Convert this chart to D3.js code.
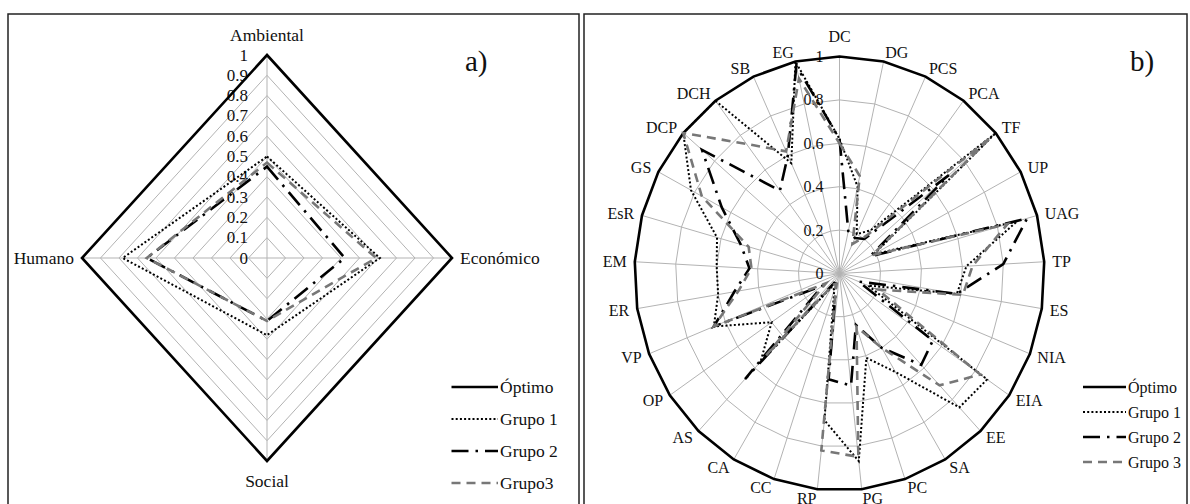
<!DOCTYPE html>
<html>
<head>
<meta charset="utf-8">
<script src="https://cdn.jsdelivr.net/npm/d3@7"></script>
<style>
  html, body { margin: 0; padding: 0; background: #fff; }
  svg, svg text { font-family: "Liberation Serif", "DejaVu Serif", "Times New Roman", serif; }
</style>
</head>
<body>
<svg id="chart" width="1190" height="504"></svg>
<script>
// ---- Panel a): sustainability dimensions ----
const axesA = ["Ambiental", "Económico", "Social", "Humano"];
const optimoA = [1, 1, 1, 1];
const grupo1A = [0.50, 0.61, 0.38, 0.78];
const grupo2A = [0.45, 0.42, 0.31, 0.65];
const grupo3A = [0.47, 0.59, 0.31, 0.65];
const ticksA = [0, 0.1, 0.2, 0.3, 0.4, 0.5, 0.6, 0.7, 0.8, 0.9, 1];
const tickLabelsA = ["0", "0.1", "0.2", "0.3", "0.4", "0.5", "0.6", "0.7", "0.8", "0.9", "1"];
const legendA = ["Óptimo", "Grupo 1", "Grupo 2", "Grupo3"];

// ---- Panel b): indicators ----
const axesB = ["DC", "DG", "PCS", "PCA", "TF", "UP", "UAG", "TP", "ES", "NIA", "EIA", "EE", "SA", "PC",
               "PG", "RP", "CC", "CA", "AS", "OP", "VP", "ER", "EM", "EsR", "GS", "DCP", "DCH", "SB", "EG"];
const optimoB = [1, 1, 1, 1, 1, 1, 1, 1, 1, 1, 1, 1, 1, 1, 1, 1, 1, 1, 1, 1, 1, 1, 1, 1, 1, 1, 1, 1, 1];
const grupo1B = [0.62, 0.41, 0.20, 0.25, 1.00, 0.19, 0.90, 0.62, 0.58, 0.15, 0.87, 0.85, 0.53, 0.41,
                 0.87, 0.68, 0.08, 0.07, 0.56, 0.40, 0.66, 0.60, 0.60, 0.62, 0.82, 1.00, 1.00, 0.56, 1.00];
const grupo2B = [0.62, 0.20, 0.18, 0.20, 0.70, 0.17, 0.95, 0.80, 0.58, 0.10, 0.55, 0.58, 0.40, 0.25,
                 0.52, 0.49, 0.05, 0.05, 0.67, 0.10, 0.66, 0.52, 0.44, 0.50, 0.65, 0.88, 0.48, 0.60, 0.98];
const grupo3B = [0.60, 0.46, 0.15, 0.22, 0.97, 0.18, 0.85, 0.65, 0.61, 0.20, 0.83, 0.71, 0.40, 0.26,
                 0.85, 0.82, 0.05, 0.06, 0.52, 0.08, 0.66, 0.50, 0.43, 0.46, 0.76, 1.00, 0.75, 0.62, 0.92];
const ticksB = [0, 0.2, 0.4, 0.6, 0.8, 1];
const tickLabelsB = ["0", "0.2", "0.4", "0.6", "0.8", "1"];
const legendB = ["Óptimo", "Grupo 1", "Grupo 2", "Grupo 3"];

const SERIF = "'Liberation Serif', 'DejaVu Serif', 'Times New Roman', serif";

// Line styles shared by both panels
const seriesStyles = [
  { stroke: "#000", width: 2.6, dash: null },
  { stroke: "#000", width: 2.0, dash: "2,2.2" },
  { stroke: "#000", width: 2.6, dash: "17,7,2.5,7" },
  { stroke: "#777", width: 2.6, dash: "9,6" }
];

const svg = d3.select("#chart").attr("font-family", SERIF);

// Panel frames
svg.append("rect").attr("x", 8).attr("y", 14).attr("width", 571).attr("height", 520)
  .attr("fill", "none").attr("stroke", "#222").attr("stroke-width", 1.5);
svg.append("rect").attr("x", 584).attr("y", 14).attr("width", 603).attr("height", 520)
  .attr("fill", "none").attr("stroke", "#222").attr("stroke-width", 1.5);

function radar(cfg) {
  const n = cfg.axes.length;
  const g = svg.append("g");
  const angle = d3.scaleLinear().domain([0, n]).range([0, 2 * Math.PI]);
  const rX = d3.scaleLinear().domain([0, 1]).range([0, cfg.rx]);
  const rY = d3.scaleLinear().domain([0, 1]).range([0, cfg.ry]);
  const pt = (i, v) => [cfg.cx + rX(v) * Math.sin(angle(i)), cfg.cy - rY(v) * Math.cos(angle(i))];
  const closed = d3.line().curve(d3.curveLinearClosed);

  // rings
  g.append("g").selectAll("path").data(cfg.ticks.filter(t => t > 0)).join("path")
    .attr("d", t => closed(cfg.axes.map((_, i) => pt(i, t))))
    .attr("fill", "none").attr("stroke", "#b3b3b3").attr("stroke-width", 1);

  // spokes
  g.append("g").selectAll("line").data(cfg.axes).join("line")
    .attr("x1", cfg.cx).attr("y1", cfg.cy)
    .attr("x2", (_, i) => pt(i, 1)[0]).attr("y2", (_, i) => pt(i, 1)[1])
    .attr("stroke", "#b3b3b3").attr("stroke-width", 1);

  // value labels along the first axis
  g.append("g").selectAll("text").data(cfg.ticks).join("text")
    .attr("x", cfg.cx - cfg.tickGap)
    .attr("y", t => cfg.cy - rY(t))
    .attr("text-anchor", "end").attr("dominant-baseline", "central")
    .attr("font-family", SERIF)
    .attr("font-size", cfg.tickSize).attr("fill", "#111")
    .text((_, k) => cfg.tickLabels[k]);

  // category labels
  g.append("g").selectAll("text").data(cfg.axes).join("text")
    .each(function (d, i) {
      const s = Math.sin(angle(i)), c = Math.cos(angle(i));
      const [vx, vy] = pt(i, 1);
      const el = d3.select(this);
      if (Math.abs(s) < 0.05) {
        el.attr("x", vx).attr("y", vy - 20 * c).attr("text-anchor", "middle");
      } else {
        el.attr("x", vx + 8 * s).attr("y", vy - 9 * c).attr("text-anchor", s > 0 ? "start" : "end");
      }
    })
    .attr("dominant-baseline", "central")
    .attr("font-family", SERIF)
    .attr("font-size", cfg.labelSize).attr("fill", "#111")
    .text(d => d);

  // series
  g.append("g").selectAll("path").data(cfg.series).join("path")
    .attr("d", vals => closed(vals.map((v, i) => pt(i, v))))
    .attr("fill", "none")
    .attr("stroke", (_, k) => seriesStyles[k].stroke)
    .attr("stroke-width", (_, k) => seriesStyles[k].width)
    .attr("stroke-dasharray", (_, k) => seriesStyles[k].dash)
    .attr("stroke-linejoin", "miter");

  // legend
  const lg = g.append("g");
  cfg.legend.forEach((name, k) => {
    const y = cfg.legendY[k];
    lg.append("line").attr("x1", cfg.legendX1).attr("x2", cfg.legendX2).attr("y1", y).attr("y2", y)
      .attr("stroke", seriesStyles[k].stroke).attr("stroke-width", seriesStyles[k].width)
      .attr("stroke-dasharray", seriesStyles[k].dash);
    lg.append("text").attr("x", cfg.legendX2 + 2).attr("y", y)
      .attr("dominant-baseline", "central")
      .attr("font-family", SERIF)
      .attr("font-size", cfg.legendSize).attr("fill", "#111")
      .text(name);
  });

  // panel tag
  g.append("text").attr("x", cfg.tagX).attr("y", 71)
    .attr("font-family", SERIF)
    .attr("font-size", 29).attr("fill", "#111")
    .text(cfg.tag);
}

radar({
  axes: axesA, series: [optimoA, grupo1A, grupo2A, grupo3A],
  cx: 267, cy: 258, rx: 185, ry: 203,
  ticks: ticksA, tickLabels: tickLabelsA, tickGap: 19, tickSize: 17,
  labelSize: 17.5,
  legend: legendA, legendX1: 451.5, legendX2: 498, legendY: [387, 419, 451, 483], legendSize: 17.5,
  tag: "a)", tagX: 465
});

radar({
  axes: axesB, series: [optimoB, grupo1B, grupo2B, grupo3B],
  cx: 839.5, cy: 273.5, rx: 205, ry: 217,
  ticks: ticksB, tickLabels: tickLabelsB, tickGap: 16, tickSize: 16,
  labelSize: 16,
  legend: legendB, legendX1: 1083, legendX2: 1126, legendY: [387, 412, 437, 462], legendSize: 16,
  tag: "b)", tagX: 1130
});
</script>
</body>
</html>
